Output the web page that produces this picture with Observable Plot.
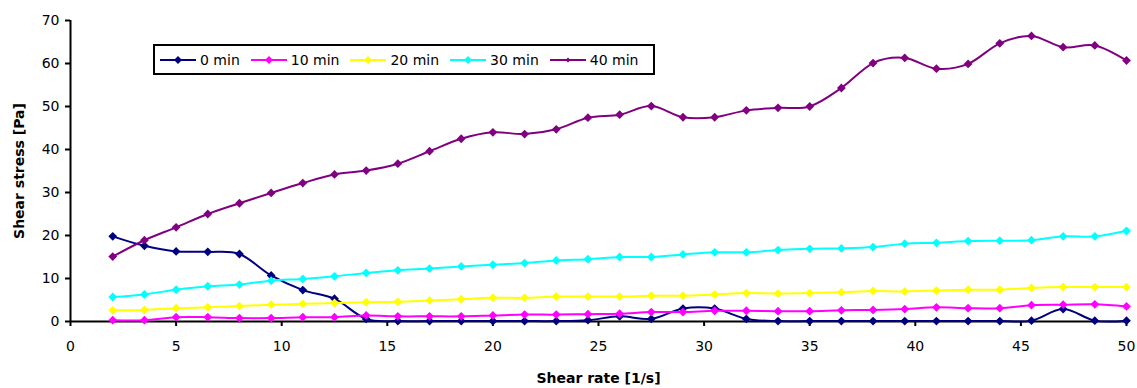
<!DOCTYPE html>
<html><head><meta charset="utf-8">
<script src="https://cdn.jsdelivr.net/npm/d3@7"></script>
<script src="https://cdn.jsdelivr.net/npm/@observablehq/plot@0.6"></script>
<style>
body{margin:0;background:#fff;}
#wrap{position:relative;width:1137px;height:388px;}
#legend{position:absolute;left:153px;top:44px;width:502px;height:31px;box-sizing:border-box;border:2px solid #000;background:#fff;display:flex;align-items:center;padding-left:5px;font-family:"DejaVu Sans";font-size:14px;color:#000;}
.item{display:flex;align-items:center;margin-right:11px;}
.item svg{margin-right:4px;}
</style></head><body><div id="wrap"></div>
<script>
const shearRate = [2,3.5,5,6.5,8,9.5,11,12.5,14,15.5,17,18.5,20,21.5,23,24.5,26,27.5,29,30.5,32,33.5,35,36.5,38,39.5,41,42.5,44,45.5,47,48.5,50];
const seriesNames = ["0 min","10 min","20 min","30 min","40 min"];
const seriesColors = ["#000080","#FF00FF","#FFFF00","#00FFFF","#800080"];
const stress0min  = [19.8,17.6,16.3,16.2,15.7,10.7,7.3,5.3,0.6,0.1,0.1,0.1,0.1,0.1,0.1,0.3,1.2,0.6,3.0,3.0,0.6,0.1,0.1,0.1,0.1,0.1,0.1,0.1,0.1,0.2,2.9,0.2,0.2];
const stress10min = [0.3,0.3,1.0,1.0,0.8,0.8,1.0,1.0,1.4,1.2,1.2,1.2,1.4,1.6,1.6,1.7,1.8,2.2,2.2,2.5,2.5,2.4,2.4,2.6,2.7,2.9,3.3,3.1,3.1,3.8,3.9,4.0,3.5];
const stress20min = [2.6,2.7,3.1,3.3,3.6,3.9,4.1,4.3,4.5,4.6,4.9,5.2,5.5,5.5,5.8,5.8,5.8,6.0,6.0,6.3,6.6,6.5,6.6,6.8,7.1,7.0,7.2,7.4,7.4,7.8,8.0,8.0,8.0];
const stress30min = [5.7,6.3,7.4,8.2,8.6,9.5,9.9,10.5,11.3,11.9,12.3,12.8,13.2,13.6,14.2,14.5,15.0,15.0,15.6,16.1,16.1,16.6,16.9,17.0,17.3,18.1,18.3,18.7,18.8,18.9,19.8,19.8,21.1];
const stress40min = [15.1,18.9,21.9,25.0,27.5,29.9,32.2,34.2,35.1,36.7,39.6,42.5,44.0,43.6,44.7,47.4,48.1,50.1,47.5,47.5,49.1,49.7,50.0,54.3,60.1,61.3,58.8,59.9,64.7,66.4,63.8,64.2,60.7];
const xTicks = [0,5,10,15,20,25,30,35,40,45,50];
const yTicks = [0,10,20,30,40,50,60,70];
const xLabel = "Shear rate [1/s]";
const yLabel = "Shear stress [Pa]";

const allSeries = [stress0min,stress10min,stress20min,stress30min,stress40min];
const rows = seriesNames.map((name,i) => shearRate.map((x,j) => ({series:name, rate:x, stress:allSeries[i][j]})));

const diamond = {draw(ctx, size){ const h = Math.sqrt(size/2); ctx.moveTo(0,-h); ctx.lineTo(h,0); ctx.lineTo(0,h); ctx.lineTo(-h,0); ctx.closePath(); }};

const seriesMarks = rows.flatMap((d,i) => [
  Plot.line(d, {x:"rate", y:"stress", stroke: seriesColors[i], strokeWidth: 2, curve: "cardinal"}),
  Plot.dot(d, {x:"rate", y:"stress", fill: seriesColors[i], symbol: diamond, r: 3.5})
]);

const chart = Plot.plot({
  width: 1137, height: 388,
  marginLeft: 70, marginRight: 11, marginTop: 20, marginBottom: 67,
  style: {fontFamily: "DejaVu Sans", fontSize: "14px", background: "#fff", color: "#000"},
  x: {domain: [0,50], label: null},
  y: {domain: [0,70], label: null},
  marks: [
    Plot.axisX({ticks: xTicks, tickSize: 5, tickPadding: 15, strokeWidth: 2, label: null, fontSize: 14}),
    Plot.axisY({ticks: yTicks, tickSize: 5, tickPadding: 6, strokeWidth: 2, label: null, fontSize: 14}),
    Plot.ruleY([0], {stroke: "#000", strokeWidth: 2}),
    Plot.ruleX([0], {stroke: "#000", strokeWidth: 2}),
    ...seriesMarks,
    Plot.text([xLabel], {text: d => d, frameAnchor: "bottom", dy: 57, textAnchor: "middle", lineAnchor: "middle", fontWeight: "bold", fontSize: 14}),
    Plot.text([yLabel], {text: d => d, frameAnchor: "left", dx: -51, rotate: -90, textAnchor: "middle", lineAnchor: "middle", fontWeight: "bold", fontSize: 14})
  ]
});
const wrap = document.getElementById("wrap");
wrap.appendChild(chart);

const legend = document.createElement("div");
legend.id = "legend";
seriesNames.forEach((name,i) => {
  const item = document.createElement("div");
  item.className = "item";
  const m = i === 4 ? 2.5 : 4;
  item.innerHTML = `<svg width="36" height="12"><line x1="0" y1="6" x2="36" y2="6" stroke="${seriesColors[i]}" stroke-width="2"/><path d="M18,${6-m}L${18+m},6L18,${6+m}L${18-m},6Z" fill="${seriesColors[i]}"/></svg><span>${name}</span>`;
  legend.appendChild(item);
});
wrap.appendChild(legend);
</script>
</body></html>
